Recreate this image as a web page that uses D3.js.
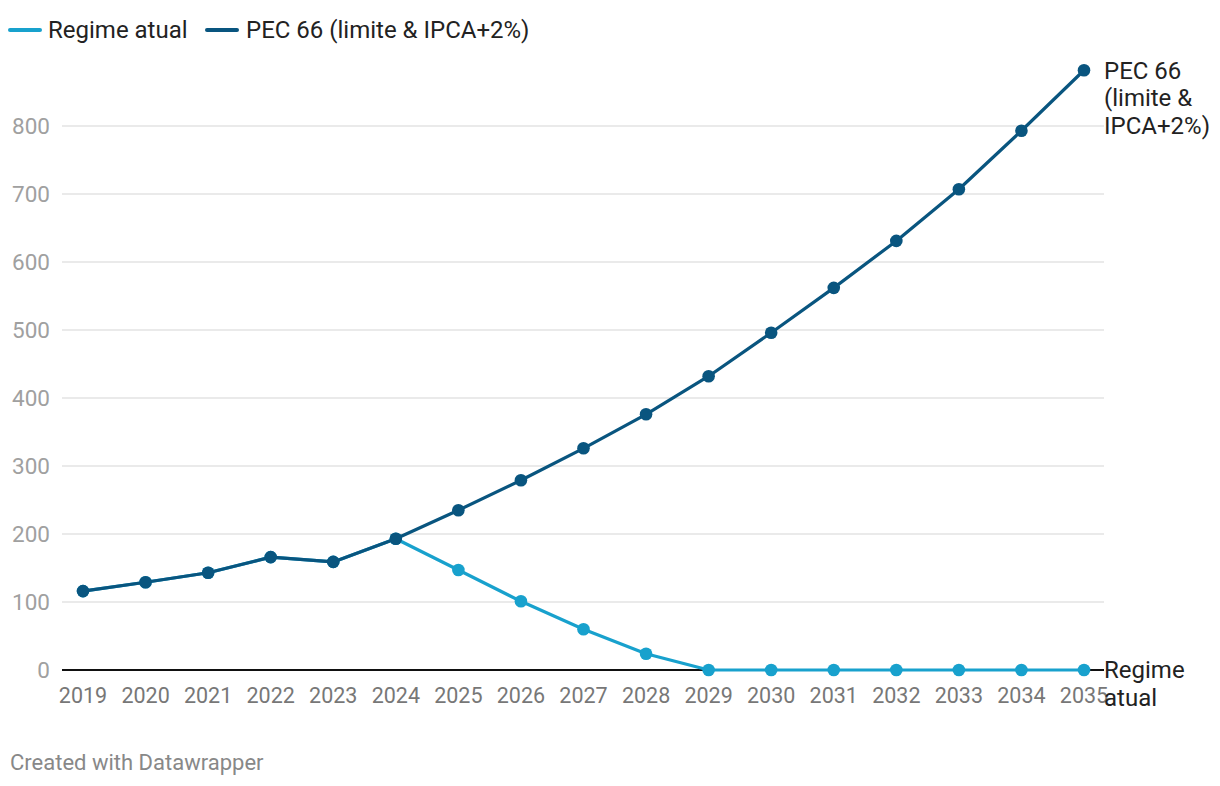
<!DOCTYPE html>
<html><head><meta charset="utf-8">
<script src="https://cdn.jsdelivr.net/npm/d3@7"></script>
<style>
body{margin:0;background:#fff;font-family:Roboto,"Noto Sans",sans-serif;}
svg{display:block}
</style></head>
<body>
<svg id="c" width="1220" height="786"></svg>
<script>
const years = [2019,2020,2021,2022,2023,2024,2025,2026,2027,2028,2029,2030,2031,2032,2033,2034,2035];
const pec66 = [116,129,143,166,159,193,235,279,326,376,432,496,562,631,707,793,882];
const regimeAtual = [116,129,143,166,159,193,147,101,60,24,0,0,0,0,0,0,0];
const yTicks = [0,100,200,300,400,500,600,700,800];
const seriesNames = ["Regime atual","PEC 66 (limite & IPCA+2%)"];
const colors = ["#18a1cd","#09557f"];

const svg = d3.select("#c");
const x = d3.scalePoint().domain(years).range([83,1084]);
const y = d3.scaleLinear().domain([0,800]).range([670,126]);
const gridX0 = 62, gridX1 = 1104;

// gridlines
svg.append("g").selectAll("line").data(yTicks.filter(d=>d>0)).join("line")
  .attr("x1",gridX0).attr("x2",gridX1).attr("y1",d=>y(d)).attr("y2",d=>y(d))
  .attr("stroke","#e3e3e3").attr("stroke-width",1.5);
// y labels
svg.append("g").selectAll("text").data(yTicks).join("text")
  .attr("x",50).attr("y",d=>y(d)).attr("dy","0.35em").attr("text-anchor","end")
  .attr("font-size",22.5).attr("fill","#a0a0a0").text(d=>d);
// baseline
svg.append("line").attr("x1",gridX0).attr("x2",gridX1).attr("y1",y(0)).attr("y2",y(0))
  .attr("stroke","#111").attr("stroke-width",2);
// x labels
svg.append("g").selectAll("text").data(years).join("text")
  .attr("x",d=>x(d)).attr("y",703).attr("text-anchor","middle")
  .attr("font-size",21.5).attr("fill","#777").text(d=>d);

const line = d3.line().x((d,i)=>x(years[i])).y(d=>y(d));
[regimeAtual,pec66].forEach((vals,k)=>{
  svg.append("path").datum(vals).attr("d",line).attr("fill","none")
    .attr("stroke",colors[k]).attr("stroke-width",3.2).attr("stroke-linejoin","round");
  svg.append("g").selectAll("circle").data(vals).join("circle")
    .attr("cx",(d,i)=>x(years[i])).attr("cy",d=>y(d)).attr("r",6.3).attr("fill",colors[k]);
});

// end labels
const pecLbl = svg.append("text").attr("x",1104).attr("y",y(882)).attr("font-size",24).attr("fill","#222");
["PEC 66","(limite &","IPCA+2%)"].forEach((t,i)=>pecLbl.append("tspan").attr("x",1104).attr("dy",i===0?"0.35em":"1.15em").text(t));
const regLbl = svg.append("text").attr("x",1104).attr("y",y(0)).attr("font-size",24).attr("fill","#222");
["Regime","atual"].forEach((t,i)=>regLbl.append("tspan").attr("x",1104).attr("dy",i===0?"0.35em":"1.15em").text(t));

// legend
const leg = [{x:10,tx:48},{x:207,tx:246}];
seriesNames.forEach((n,k)=>{
  svg.append("line").attr("x1",leg[k].x).attr("x2",leg[k].x+30).attr("y1",30).attr("y2",30)
    .attr("stroke",colors[k]).attr("stroke-width",4).attr("stroke-linecap","round");
  svg.append("text").attr("x",leg[k].tx).attr("y",30).attr("dy","0.35em")
    .attr("font-size",24).attr("fill","#222").text(n);
});

// footer
svg.append("text").attr("x",10).attr("y",770).attr("font-size",22).attr("fill","#888").text("Created with Datawrapper");
</script>
</body></html>
